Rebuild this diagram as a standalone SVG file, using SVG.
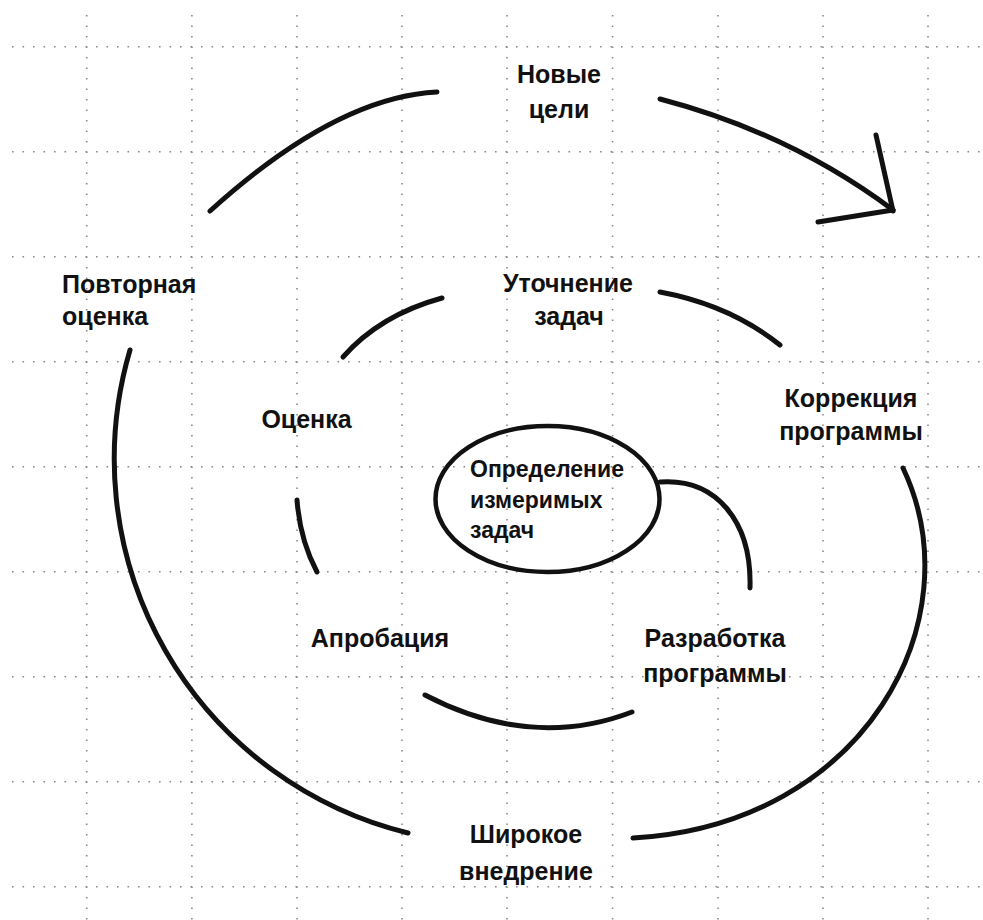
<svg xmlns="http://www.w3.org/2000/svg" width="983" height="920" viewBox="0 0 983 920">
<style>
.grid line{stroke:#8a8a8a;stroke-width:1.6;stroke-dasharray:1.6 8.9;}
.lbl{font-family:"Liberation Sans","Arial",sans-serif;font-weight:bold;font-size:25px;fill:#111;}
.mid{text-anchor:middle;}
.small{font-size:23px;}
.arc{fill:none;stroke:#111;stroke-width:5;stroke-linecap:round;}
</style>
<rect width="983" height="920" fill="#ffffff"/>
<g class="grid" id="grid">
<line x1="12" y1="46.7" x2="983" y2="46.7"/>
<line x1="12" y1="151.7" x2="983" y2="151.7"/>
<line x1="12" y1="256.7" x2="983" y2="256.7"/>
<line x1="12" y1="361.7" x2="983" y2="361.7"/>
<line x1="12" y1="466.7" x2="983" y2="466.7"/>
<line x1="12" y1="571.7" x2="983" y2="571.7"/>
<line x1="12" y1="676.7" x2="983" y2="676.7"/>
<line x1="12" y1="781.7" x2="983" y2="781.7"/>
<line x1="12" y1="886.7" x2="983" y2="886.7"/>
<line x1="86.7" y1="15" x2="86.7" y2="920"/>
<line x1="191.9" y1="15" x2="191.9" y2="920"/>
<line x1="297" y1="15" x2="297" y2="920"/>
<line x1="402" y1="15" x2="402" y2="920"/>
<line x1="507" y1="15" x2="507" y2="920"/>
<line x1="612.6" y1="15" x2="612.6" y2="920"/>
<line x1="718" y1="15" x2="718" y2="920"/>
<line x1="823" y1="15" x2="823" y2="920"/>
<line x1="928" y1="15" x2="928" y2="920"/>
</g>
<g id="connectors">
<path class="arc" d="M210,211 Q336,97 437,92"/>
<path class="arc" d="M660,99 Q790,133 893,210"/>
<line class="arc" x1="876" y1="135" x2="893" y2="211"/>
<line class="arc" x1="818" y1="222" x2="893" y2="210"/>
<path class="arc" d="M130,350 A385,385 0 0 0 408,833"/>
<path class="arc" d="M903,468 C975,620 865,825 633,838"/>
<path class="arc" d="M343,357 Q380,315 442,298"/>
<path class="arc" d="M660,292 Q730,305 780,345"/>
<path class="arc" d="M297,500 Q300,540 317,572"/>
<path class="arc" d="M425,695 Q531.5,750.5 632,712"/>
<path class="arc" d="M660,482 C715,478 752,520 750,588"/>
</g>
<g id="node-new-goals">
<text class="lbl mid" x="559" y="83">Новые</text>
<text class="lbl mid" x="559" y="118">цели</text>
</g>
<g id="node-reassessment">
<text class="lbl" x="62" y="293">Повторная</text>
<text class="lbl" x="62" y="325">оценка</text>
</g>
<g id="node-refine-tasks">
<text class="lbl mid" x="568" y="292">Уточнение</text>
<text class="lbl mid" x="569" y="325">задач</text>
</g>
<g id="node-assessment">
<text class="lbl mid" x="306.5" y="428">Оценка</text>
</g>
<g id="node-correction">
<text class="lbl mid" x="851" y="407">Коррекция</text>
<text class="lbl mid" x="851" y="440">программы</text>
</g>
<g id="node-define-tasks">
<ellipse cx="547.5" cy="499" rx="112" ry="73" fill="none" stroke="#111" stroke-width="4.5"/>
<text class="lbl small" x="470" y="477">Определение</text>
<text class="lbl small" x="470" y="508">измеримых</text>
<text class="lbl small" x="470" y="538">задач</text>
</g>
<g id="node-approbation">
<text class="lbl mid" x="380" y="647">Апробация</text>
</g>
<g id="node-development">
<text class="lbl mid" x="715" y="647">Разработка</text>
<text class="lbl mid" x="715" y="682">программы</text>
</g>
<g id="node-wide-implementation">
<text class="lbl mid" x="526" y="843">Широкое</text>
<text class="lbl mid" x="526" y="880">внедрение</text>
</g>
</svg>
